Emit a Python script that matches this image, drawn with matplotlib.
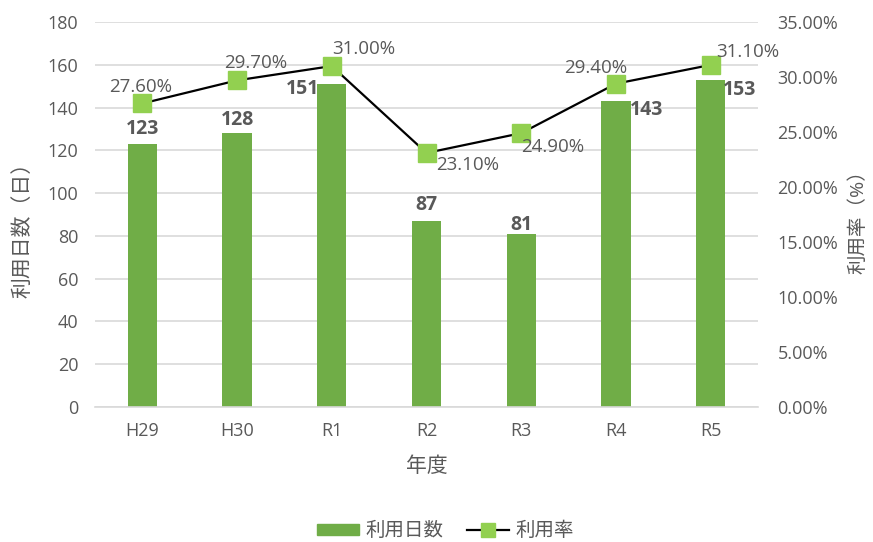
import matplotlib
matplotlib.use("Agg")
import matplotlib.pyplot as plt
from matplotlib.patches import Patch
from matplotlib.lines import Line2D

plt.rcParams['font.family'] = ['Open Sans', 'Noto Sans CJK JP', 'DejaVu Sans']

categories = ["H29", "H30", "R1", "R2", "R3", "R4", "R5"]
days = [123, 128, 151, 87, 81, 143, 153]
rate = [27.6, 29.7, 31.0, 23.1, 24.9, 29.4, 31.1]

bar_color = "#70AD47"
marker_color = "#92D050"
text_color = "#595959"
grid_color = "#D9D9D9"

# label offsets in pixels (x, y up)
day_label_off = [(0, 15), (0, 13), (-29, -5), (0, 16), (0, 9), (31, -9), (29, -10)]
rate_label_off = [(-2, 16), (19, 17), (32, 17), (41, -12), (31, -14), (-20, 16), (37, 13)]

fig = plt.figure(figsize=(8.73, 5.42), dpi=100)
ax = fig.add_axes([0.1088, 0.249, 0.7595, 0.7103])
ax2 = ax.twinx()

x = list(range(len(categories)))
ax.bar(x, days, width=0.31, color=bar_color, zorder=2)
ax.set_ylim(0, 180)
ax.set_yticks(range(0, 181, 20))
ax.set_xlim(-0.5, len(categories) - 0.5)
ax.set_xticks(x)
ax.set_xticklabels(categories)
ax.grid(axis='y', color=grid_color, linewidth=1.2, zorder=0)
ax.set_axisbelow(True)

ax2.plot(x, rate, color="black", linewidth=1.6, marker='s', markersize=12.5,
         markerfacecolor=marker_color, markeredgecolor=marker_color, zorder=3)
ax2.set_ylim(0, 35)
ax2.set_yticks(range(0, 36, 5))
ax2.set_yticklabels([f"{v:.2f}%" for v in range(0, 36, 5)])

for a in (ax, ax2):
    for s in a.spines.values():
        s.set_visible(False)
    a.tick_params(length=0, colors=text_color, labelsize=13)
ax.spines['bottom'].set_visible(True)
ax.spines['bottom'].set_color(grid_color)
ax.spines['bottom'].set_linewidth(1.2)
ax.tick_params(axis='y', pad=12)
ax.tick_params(axis='x', pad=11)
ax2.tick_params(axis='y', pad=14)

for i, v in enumerate(days):
    ax.annotate(f"{v}", (i, v), xytext=day_label_off[i], textcoords='offset pixels',
                ha='center', va='center', fontsize=14, fontweight='bold', color=text_color)
for i, v in enumerate(rate):
    ax2.annotate(f"{v:.2f}%", (i, v), xytext=rate_label_off[i], textcoords='offset pixels',
                 ha='center', va='center', fontsize=13.5, color=text_color, zorder=5)

ax.set_xlabel("年度", fontsize=15, color=text_color, labelpad=11)
fig.text(0.026, 0.585, "利用日数（日）", rotation=90, ha='center', va='center',
         fontsize=15, color=text_color)
fig.text(0.983, 0.599, "利用率（%）", rotation=90, ha='center', va='center',
         fontsize=14, color=text_color)

handles = [Patch(facecolor=bar_color, edgecolor=bar_color),
           Line2D([0], [0], color='black', linewidth=1.6, marker='s', markersize=9.5,
                  markerfacecolor=marker_color, markeredgecolor=marker_color)]
leg = fig.legend(handles, ["利用日数", "利用率"], loc='center', bbox_to_anchor=(0.51, 0.02),
                 ncol=2, frameon=False, fontsize=14, handlelength=2.2, handleheight=0.45,
                 columnspacing=1.2, handletextpad=0.3)
for t in leg.get_texts():
    t.set_color(text_color)

fig.savefig("out.png", dpi=100)
